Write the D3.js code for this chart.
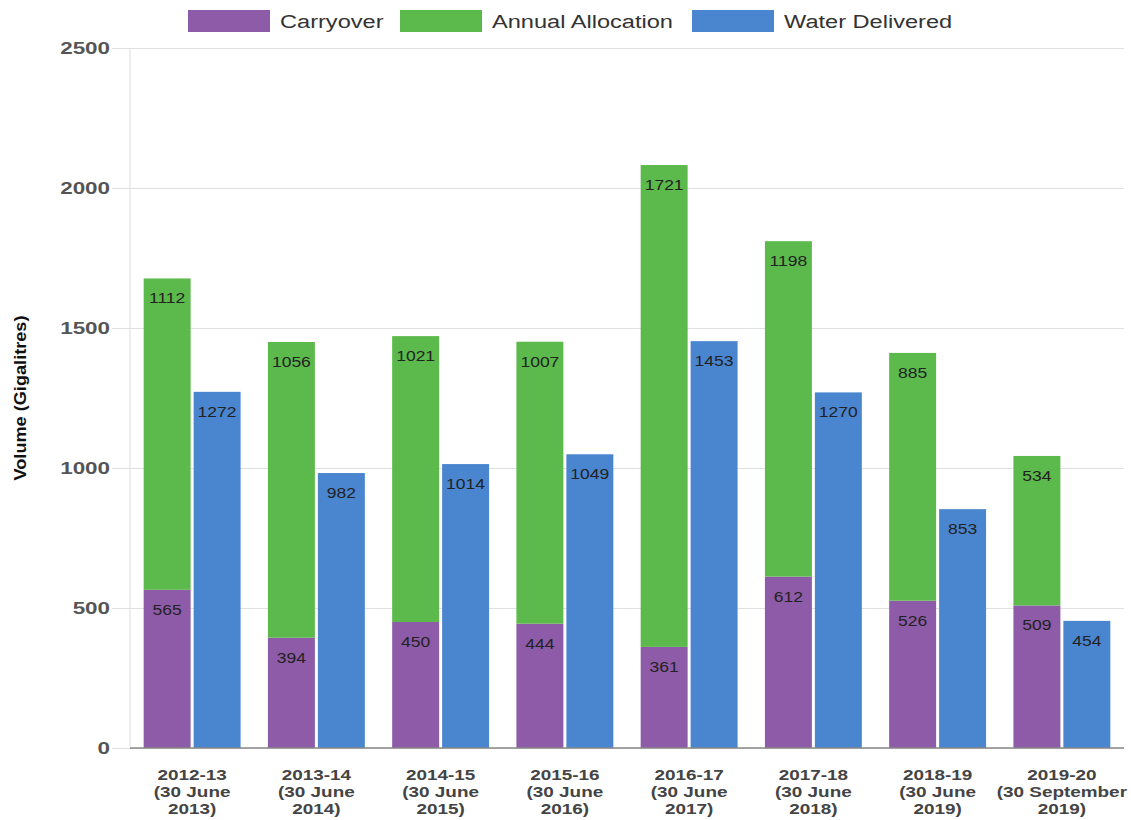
<!DOCTYPE html>
<html>
<head>
<meta charset="utf-8">
<script src="https://cdn.jsdelivr.net/npm/d3@7"></script>
<style>
  body { margin: 0; background: #fff; }
  text { font-family: "Liberation Sans", Arial, sans-serif; }
</style>
</head>
<body>
<div id="canvas"></div>
<script>
const canvWidth = 1131, canvHeight = 820;

const years = ["2012-13", "2013-14", "2014-15", "2015-16", "2016-17", "2017-18", "2018-19", "2019-20"];
const dates = ["(30 June", "(30 June", "(30 June", "(30 June", "(30 June", "(30 June", "(30 June", "(30 September"];
const endYears = ["2013)", "2014)", "2015)", "2016)", "2017)", "2018)", "2019)", "2019)"];
const carryover = [565, 394, 450, 444, 361, 612, 526, 509];
const allocation = [1112, 1056, 1021, 1007, 1721, 1198, 885, 534];
const delivered = [1272, 982, 1014, 1049, 1453, 1270, 853, 454];
const yTicks = [0, 500, 1000, 1500, 2000, 2500];
const seriesNames = ["Carryover", "Annual Allocation", "Water Delivered"];
const colors = ["#8d5ba8", "#5cb94b", "#4a85d0"];

const margin = {top: 48, right: 7, bottom: 72, left: 130};
const width = canvWidth - margin.left - margin.right;
const height = canvHeight - margin.top - margin.bottom;

// the reference text is drawn wider than plain Arial, stretch it
function stretch(sel, k) {
    sel.each(function () {
        const w = this.getComputedTextLength();
        d3.select(this).attr("textLength", w * k).attr("lengthAdjust", "spacingAndGlyphs");
    });
}

const svg = d3.select("#canvas").append("svg")
    .attr("width", canvWidth)
    .attr("height", canvHeight);

const g = svg.append("g")
    .attr("transform", "translate(" + margin.left + "," + margin.top + ")");

const x = d3.scaleBand().domain(years).range([0, width]).paddingInner(0.22).paddingOuter(0.11);
const xSub = d3.scaleBand().domain(["stack", "delivered"]).range([0, x.bandwidth()]).paddingInner(0.06);
const y = d3.scaleLinear().domain([0, 2500]).range([height, 0]);

// grid + ticks
g.append("g")
    .call(d3.axisLeft(y).tickValues(yTicks).tickSize(width + 18).tickFormat(d3.format("d")))
    .attr("transform", "translate(" + width + ",0)")
    .call(a => a.select(".domain").remove())
    .call(a => a.selectAll(".tick line").attr("stroke", "#e0e0e0"))
    .call(a => a.selectAll(".tick text")
        .attr("x", -width - 20)
        .attr("fill", "#555")
        .attr("font-size", 16)
        .attr("font-weight", "bold"))
    .call(a => stretch(a.selectAll(".tick text"), 1.4));

g.append("line").attr("x1", 0).attr("x2", 0).attr("y1", 0).attr("y2", height)
    .attr("stroke", "#dcdcdc");

const rows = years.map((yr, i) => ({
    year: yr, carry: carryover[i], alloc: allocation[i], deliv: delivered[i]
}));

const grp = g.selectAll(".grp").data(rows).enter().append("g")
    .attr("class", "grp")
    .attr("transform", d => "translate(" + x(d.year) + ",0)");

grp.append("rect")
    .attr("x", xSub("stack")).attr("width", xSub.bandwidth())
    .attr("y", d => y(d.carry)).attr("height", d => height - y(d.carry))
    .attr("fill", colors[0]);

grp.append("rect")
    .attr("x", xSub("stack")).attr("width", xSub.bandwidth())
    .attr("y", d => y(d.carry + d.alloc)).attr("height", d => y(d.carry) - y(d.carry + d.alloc))
    .attr("fill", colors[1]);

grp.append("rect")
    .attr("x", xSub("delivered")).attr("width", xSub.bandwidth())
    .attr("y", d => y(d.deliv)).attr("height", d => height - y(d.deliv))
    .attr("fill", colors[2]);

const lbl = (sel, key, top, val) => sel.append("text")
    .attr("x", xSub(key) + xSub.bandwidth() / 2)
    .attr("y", d => y(top(d)) + 25)
    .attr("text-anchor", "middle")
    .attr("font-size", 14)
    .attr("fill", "#222")
    .text(val);

stretch(lbl(grp, "stack", d => d.carry, d => d.carry), 1.25);
stretch(lbl(grp, "stack", d => d.carry + d.alloc, d => d.alloc), 1.25);
stretch(lbl(grp, "delivered", d => d.deliv, d => d.deliv), 1.25);

// x axis
g.append("line").attr("x1", 0).attr("x2", width).attr("y1", height).attr("y2", height)
    .attr("stroke", "#888").attr("stroke-width", 1.5);

const xl = g.selectAll(".xl").data(years).enter().append("text")
    .attr("class", "xl")
    .attr("x", d => x(d) + x.bandwidth() / 2)
    .attr("y", height + 32)
    .attr("text-anchor", "middle")
    .attr("font-size", 14)
    .attr("font-weight", "bold")
    .attr("fill", "#444");
xl.append("tspan").text(d => d);
xl.append("tspan").attr("x", d => x(d) + x.bandwidth() / 2).attr("dy", 17).text((d, i) => dates[i]);
xl.append("tspan").attr("x", d => x(d) + x.bandwidth() / 2).attr("dy", 17).text((d, i) => endYears[i]);
stretch(xl.selectAll("tspan"), 1.35);

// y title
svg.append("text")
    .attr("transform", "translate(26," + (margin.top + height / 2) + ") rotate(-90)")
    .attr("text-anchor", "middle")
    .attr("font-size", 16)
    .attr("font-weight", "bold")
    .attr("fill", "#111")
    .attr("textLength", 165)
    .attr("lengthAdjust", "spacingAndGlyphs")
    .text("Volume (Gigalitres)");

// legend
const legX = [188, 400, 692];
const leg = svg.selectAll(".leg").data(seriesNames).enter().append("g")
    .attr("transform", (d, i) => "translate(" + legX[i] + ",10)");
leg.append("rect").attr("width", 82).attr("height", 22).attr("fill", (d, i) => colors[i]);
const legText = leg.append("text").attr("x", 92).attr("y", 18).attr("font-size", 18).attr("fill", "#333").text(d => d);
stretch(legText, 1.31);
</script>
</body>
</html>
